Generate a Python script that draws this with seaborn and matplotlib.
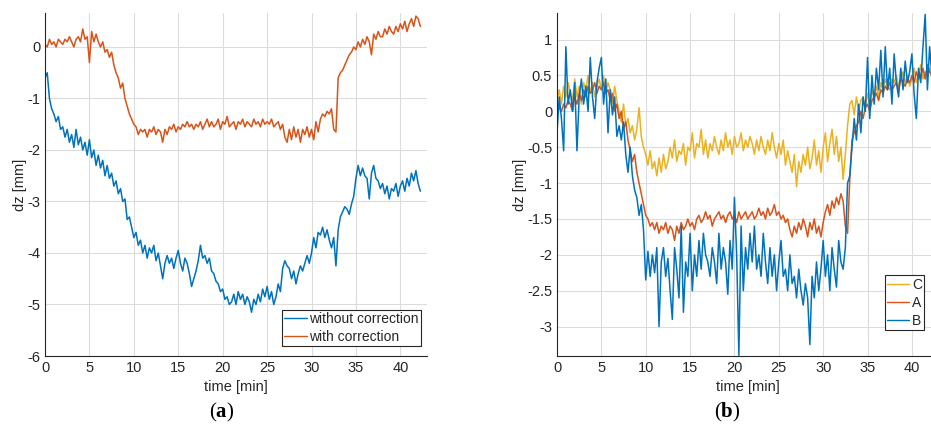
import numpy as np
import pandas as pd
import matplotlib
matplotlib.use("Agg")
import matplotlib.pyplot as plt
import seaborn as sns

step_min = 0.25

left_without = [
    -0.6, -0.5, -1.0, -1.2,  -1.3, -1.45, -1.35, -1.6,  -1.55, -1.75, -1.6, -1.85,
    -1.7, -1.95, -1.6, -1.9,  -1.75, -2.0, -1.85, -2.1,  -1.8, -2.15, -2.0, -2.3,
    -2.1, -2.35, -2.2, -2.5,  -2.3, -2.55, -2.45, -2.7,  -2.6, -2.85, -2.75, -3.0,
    -2.95, -3.35, -3.3, -3.5,  -3.7, -3.6, -3.85, -3.75,  -4.0, -3.85, -4.1, -3.9,
    -4.0, -3.85, -4.15, -4.0,  -4.25, -4.5, -4.2, -4.05,  -4.2, -4.1, -4.3, -4.1,
    -3.95, -4.2, -4.35, -4.1,  -4.2, -4.4, -4.65, -4.5,  -4.35, -4.15, -3.85, -4.1,
    -4.05, -4.2, -4.1, -4.35,  -4.4, -4.55, -4.6, -4.75,  -4.7, -4.9, -4.85, -5.0,
    -4.95, -4.8, -5.0, -4.75,  -4.9, -4.8, -5.0, -4.85,  -4.95, -5.15, -4.9, -5.0,
    -4.8, -4.95, -4.7, -4.85,  -4.65, -4.9, -4.75, -5.0,  -4.85, -4.6, -4.75, -4.3,
    -4.15, -4.25, -4.3, -4.5,  -4.35, -4.6, -4.4, -4.25,  -4.35, -4.2, -4.05, -4.2,
    -4.0, -3.7, -3.9, -3.6,  -3.65, -3.5, -3.7, -3.55,  -3.75, -3.9, -3.7, -4.25,
    -3.55, -3.3, -3.2, -3.1,  -3.15, -3.25, -3.05, -2.9,  -2.55, -2.3, -2.5, -2.35,
    -2.5, -2.55, -2.95, -2.45,  -2.3, -2.55, -2.6, -2.75,  -2.65, -2.85, -2.7, -2.95,
    -2.75, -2.8, -2.65, -2.9,  -2.7, -2.6, -2.8, -2.55,  -2.7, -2.45, -2.6, -2.4,
    -2.65, -2.8,
]

left_with = [
    0.05, 0.0, 0.15, 0.05,  0.1, 0.0, 0.15, 0.1,  0.05, 0.15, 0.1, 0.2,
    0.1, 0.0, 0.15, 0.2,  0.1, 0.35, 0.15, 0.2,  -0.3, 0.3, 0.1, 0.25,
    0.1, 0.0, 0.1, -0.1,  -0.05, -0.2, -0.1, -0.35,  -0.5, -0.6, -0.8, -0.7,
    -1.0, -1.15, -1.3, -1.4,  -1.5, -1.55, -1.7, -1.6,  -1.65, -1.6, -1.75, -1.6,
    -1.65, -1.55, -1.7, -1.6,  -1.65, -1.85, -1.6, -1.7,  -1.55, -1.6, -1.5, -1.65,
    -1.55, -1.6, -1.5, -1.55,  -1.45, -1.55, -1.5, -1.6,  -1.5, -1.55, -1.45, -1.6,
    -1.5, -1.4, -1.55, -1.45,  -1.55, -1.5, -1.4, -1.6,  -1.45, -1.5, -1.35, -1.55,
    -1.5, -1.45, -1.6, -1.45,  -1.5, -1.4, -1.55, -1.45,  -1.5, -1.55, -1.4, -1.5,
    -1.45, -1.55, -1.4, -1.5,  -1.45, -1.5, -1.4, -1.55,  -1.5, -1.45, -1.6, -1.5,
    -1.75, -1.85, -1.6, -1.8,  -1.55, -1.75, -1.6, -1.85,  -1.6, -1.7, -1.55, -1.75,
    -1.6, -1.8, -1.45, -1.65,  -1.4, -1.3, -1.35, -1.25,  -1.3, -1.2, -1.6, -1.65,
    -0.6, -0.5, -0.45, -0.35,  -0.25, -0.15, -0.1, 0.0,  -0.05, 0.1, 0.0, 0.15,
    0.05, 0.2, 0.1, -0.15,  0.25, 0.15, 0.3, 0.2,  0.2, 0.35, 0.25, 0.4,
    0.3, 0.25, 0.4, 0.3,  0.45, 0.35, 0.5, 0.3,  0.45, 0.55, 0.4, 0.6,
    0.55, 0.4,
]

right_C = [
    0.15, 0.3, 0.1, 0.35,  0.2, 0.4, 0.25, 0.15,  0.45, 0.2, 0.35, 0.1,
    0.4, 0.3, 0.5, 0.25,  0.4, 0.2, 0.35, 0.45,  0.3, 0.5, 0.25, 0.4,
    0.3, 0.1, 0.35, 0.15,  0.0, -0.15, 0.1, -0.2,  -0.1, -0.3, -0.2, -0.4,
    -0.25, 0.05, -0.35, -0.5,  -0.6, -0.75, -0.55, -0.8,  -0.7, -0.9, -0.65, -0.85,
    -0.6, -0.8, -0.7, -0.5,  -0.65, -0.4, -0.7, -0.55,  -0.6, -0.45, -0.75, -0.5,
    -0.55, -0.3, -0.65, -0.45,  -0.5, -0.25, -0.6, -0.4,  -0.65, -0.45, -0.55, -0.35,
    -0.5, -0.6, -0.4, -0.55,  -0.3, -0.5, -0.4, -0.6,  -0.35, -0.5, -0.45, -0.3,
    -0.55, -0.4, -0.5, -0.35,  -0.45, -0.6, -0.4, -0.55,  -0.35, -0.5, -0.6, -0.4,
    -0.55, -0.3, -0.5, -0.65,  -0.45, -0.6, -0.4, -0.75,  -0.55, -0.7, -0.85, -0.6,
    -1.05, -0.7, -0.85, -0.6,  -0.75, -0.5, -0.8, -0.65,  -0.4, -0.75, -0.55, -0.85,
    -0.5, -0.3, -0.7, -0.45,  -0.25, -0.6, -0.35, -0.7,  -0.5, -0.95, -0.6, -0.2,
    0.1, 0.15, -0.05, 0.2,  0.0, 0.15, 0.2, 0.05,  0.25, 0.1, 0.3, 0.2,
    0.35, 0.2, 0.4, 0.3,  0.45, 0.35, 0.3, 0.45,  0.4, 0.5, 0.35, 0.45,
    0.55, 0.4, 0.5, 0.35,  0.45, 0.6, 0.4, 0.5,  0.65, 0.45, 0.55, 0.5,
    0.6, 0.45,
]

right_A = [
    -0.05, 0.05, 0.0, 0.1,  0.05, 0.15, 0.1, 0.0,  0.2, 0.1, 0.25, 0.15,
    0.3, 0.2, 0.35, 0.25,  0.3, 0.4, 0.25, 0.35,  0.3, 0.4, 0.25, 0.3,
    0.15, 0.25, 0.0, 0.1,  -0.1, 0.0, -0.25, -0.15,  -0.4, -0.55, -0.7, -0.6,
    -0.85, -1.0, -1.15, -1.3,  -1.45, -1.5, -1.6, -1.55,  -1.65, -1.55, -1.7, -1.6,
    -1.65, -1.55, -1.7, -1.6,  -1.65, -1.8, -1.6, -1.7,  -1.55, -1.65, -1.6, -1.5,
    -1.6, -1.55, -1.65, -1.5,  -1.45, -1.55, -1.5, -1.4,  -1.5, -1.45, -1.6, -1.5,
    -1.45, -1.4, -1.5, -1.45,  -1.55, -1.45, -1.4, -1.5,  -1.45, -1.55, -1.4, -1.5,
    -1.45, -1.4, -1.5, -1.45,  -1.4, -1.5, -1.45, -1.35,  -1.45, -1.4, -1.5, -1.35,
    -1.45, -1.4, -1.3, -1.45,  -1.4, -1.5, -1.45, -1.55,  -1.5, -1.65, -1.75, -1.6,
    -1.7, -1.55, -1.65, -1.5,  -1.6, -1.75, -1.55, -1.65,  -1.5, -1.7, -1.6, -1.75,
    -1.55, -1.4, -1.3, -1.45,  -1.25, -1.35, -1.2, -1.3,  -1.15, -1.25, -1.6, -1.7,
    -0.95, -0.4, -0.3, -0.2,  -0.15, 0.0, -0.1, 0.05,  0.1, 0.0, 0.15, 0.2,
    0.25, 0.15, 0.3, 0.25,  0.35, 0.3, 0.4, 0.3,  0.35, 0.4, 0.3, 0.45,
    0.4, 0.35, 0.45, 0.4,  0.5, 0.4, 0.55, 0.45,  0.5, 0.6, 0.45, 0.65,
    0.55, 0.5,
]

right_B = [
    -0.3, 0.2, -0.1, -0.55,  0.9, 0.1, 0.3, 0.0,  0.4, -0.55, 0.2, 0.45,
    0.1, 0.35, 0.0, 0.75,  0.2, -0.1, 0.4, 0.6,  0.75, 0.1, 0.45, -0.3,
    0.3, -0.05, 0.2, -0.35,  -0.2, -0.4, -0.15, -0.6,  -0.85, -0.5, -0.9, -1.1,
    -1.2, -1.45, -1.3, -1.65,  -2.35, -1.95, -2.3, -2.0,  -2.25, -1.9, -3.0, -2.1,
    -1.9, -2.3, -2.05, -2.5,  -2.9, -1.9, -2.2, -2.6,  -1.6, -2.8, -2.1, -2.3,
    -1.7, -2.5, -2.0, -2.3,  -1.8, -2.2, -1.7, -2.0,  -2.1, -2.3, -1.9, -2.1,
    -2.4, -1.7, -2.2, -1.9,  -2.1, -2.55, -1.8, -2.2,  -1.2, -2.0, -3.4, -1.6,
    -2.5, -1.9, -2.2, -1.7,  -2.1, -1.6, -2.2, -2.0,  -2.3, -1.7, -2.1, -2.4,
    -1.9, -2.3, -2.0, -2.5,  -2.1, -1.8, -2.3, -2.2,  -2.5, -2.0, -2.4, -2.3,
    -2.6, -2.2, -2.5, -2.7,  -2.4, -2.6, -3.25, -2.3,  -2.6, -2.1, -2.5, -2.2,
    -1.8, -2.3, -2.0, -2.5,  -1.9, -2.2, -2.45, -1.8,  -2.1, -2.2, -1.9, -1.0,
    -0.9, -0.5, -0.1, -0.4,  0.1, -0.3, 0.2, 0.0,  0.75, -0.1, 0.5, 0.1,
    0.6, 0.3, 0.85, 0.2,  0.9, 0.3, 0.6, 0.1,  0.8, 0.4, 0.2, 0.6,
    0.3, 0.7, 0.4, 0.55,  0.8, 0.25, -0.1, 0.6,  0.4, 0.9, 1.35, 0.3,
    0.9, 0.5,
]

left_labels = ["without correction", "with correction"]
right_labels = ["C", "A", "B"]
x_ticks = [0, 5, 10, 15, 20, 25, 30, 35, 40]
left_y_ticks = [-6, -5, -4, -3, -2, -1, 0]
right_y_ticks = [-3, -2.5, -2, -1.5, -1, -0.5, 0, 0.5, 1]

# ---------------- style ----------------
sns.set_style("white")
plt.rcParams["font.family"] = ["Liberation Sans", "DejaVu Sans"]
plt.rcParams["mathtext.fontset"] = "custom"
plt.rcParams["mathtext.rm"] = "Liberation Serif"
plt.rcParams["mathtext.bf"] = "Liberation Serif:bold"

BLUE = "#0072BD"
ORANGE = "#D95319"
YELLOW = "#EDB120"
TXT = "#262626"

def build_df(series, labels):
    frames = []
    for vals, lab in zip(series, labels):
        t = np.arange(len(vals)) * step_min
        frames.append(pd.DataFrame({"time": t, "dz": vals, "series": lab}))
    return pd.concat(frames, ignore_index=True)

df_left = build_df([left_without, left_with], left_labels)
df_right = build_df([right_C, right_A, right_B], right_labels)

fig = plt.figure(figsize=(9.31, 4.32), dpi=100)
ax1 = fig.add_axes([45 / 931, 1 - 356 / 432, 382 / 931, 343 / 432])
ax2 = fig.add_axes([557 / 931, 1 - 356 / 432, 381.5 / 931, 343 / 432])

sns.lineplot(data=df_left, x="time", y="dz", hue="series", hue_order=left_labels,
             palette=[BLUE, ORANGE], estimator=None, sort=False, lw=1.1, ax=ax1,
             legend=False)
sns.lineplot(data=df_right, x="time", y="dz", hue="series", hue_order=right_labels,
             palette=[YELLOW, ORANGE, BLUE], estimator=None, sort=False, lw=1.1, ax=ax2,
             legend=False)

def style_axes(ax, yticks, ylim):
    ax.set_xlim(0, 43)
    ax.set_ylim(*ylim)
    ax.set_xticks(x_ticks)
    ax.set_yticks(yticks)
    ax.set_yticklabels([f"{v:g}" for v in yticks])
    ax.grid(True, color="#dcdcdc", lw=0.8)
    ax.set_axisbelow(True)
    for s in ["top", "right"]:
        ax.spines[s].set_visible(False)
    for s in ["left", "bottom"]:
        ax.spines[s].set_color(TXT)
        ax.spines[s].set_linewidth(0.8)
    ax.tick_params(direction="in", length=3.5, width=0.7, color=TXT,
                   labelcolor=TXT, labelsize=10.5, pad=3.5)
    ax.set_xlabel("time [min]", fontsize=10.5, color=TXT, labelpad=4)
    ax.set_ylabel("dz [mm]", fontsize=10.5, color=TXT, labelpad=0)

style_axes(ax1, left_y_ticks, (-6, 0.66))
style_axes(ax2, right_y_ticks, (-3.41, 1.37))

leg_kw = dict(frameon=True, fancybox=False, framealpha=1, edgecolor=TXT,
              fontsize=10, handlelength=1.6, handletextpad=0.2,
              borderpad=0.15, labelspacing=0.3, borderaxespad=0.0)
h1 = [plt.Line2D([], [], color=c, lw=1.0) for c in [BLUE, ORANGE]]
lg1 = ax1.legend(h1, left_labels, loc="lower right", bbox_to_anchor=(0.984, 0.029), **leg_kw)
h2 = [plt.Line2D([], [], color=c, lw=1.0) for c in [YELLOW, ORANGE, BLUE]]
lg2 = ax2.legend(h2, right_labels, loc="lower right", bbox_to_anchor=(0.962, 0.076), **leg_kw)
for lg in (lg1, lg2):
    lg.get_frame().set_linewidth(0.8)

fig.text(222 / 931, 1 - 412 / 432, r"($\mathbf{a}$)", ha="center", va="center",
         fontsize=15, color="black", family="Liberation Serif")
fig.text(727 / 931, 1 - 412 / 432, r"($\mathbf{b}$)", ha="center", va="center",
         fontsize=15, color="black", family="Liberation Serif")

fig.savefig("out.png", dpi=100)
